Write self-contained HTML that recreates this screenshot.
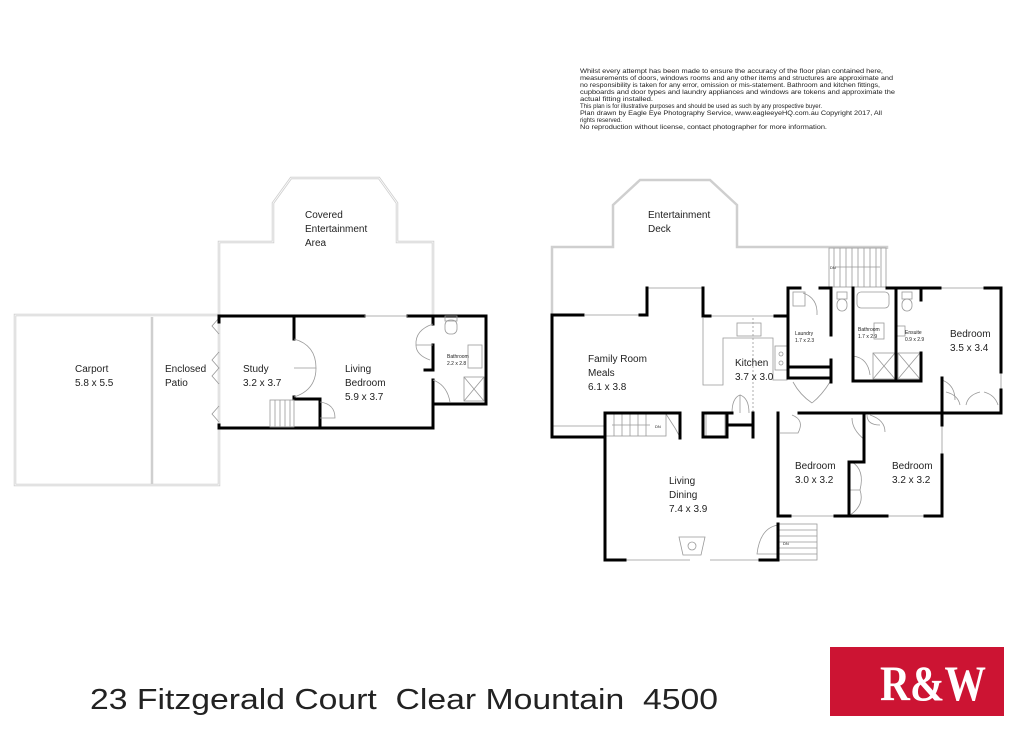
<!DOCTYPE html>
<html><head><meta charset="utf-8"><style>
html,body{margin:0;padding:0;background:#fff;width:1024px;height:741px;overflow:hidden}
svg{display:block}
text{font-family:"Liberation Sans",sans-serif;fill:#222}
</style></head><body>
<svg width="1024" height="741" viewBox="0 0 1024 741" xmlns="http://www.w3.org/2000/svg">
<!-- disclaimer -->
<g font-size="6.2" lengthAdjust="spacingAndGlyphs">
<text x="580" y="73" textLength="303" lengthAdjust="spacingAndGlyphs">Whilst every attempt has been made to ensure the accuracy of the floor plan contained here,</text>
<text x="580" y="80" textLength="313" lengthAdjust="spacingAndGlyphs">measurements of doors, windows rooms and any other items and structures are approximate and</text>
<text x="580" y="87" textLength="300" lengthAdjust="spacingAndGlyphs">no responsibility is taken for any error, omission or mis-statement. Bathroom and kitchen fittings,</text>
<text x="580" y="94" textLength="315" lengthAdjust="spacingAndGlyphs">cupboards and door types and laundry appliances and windows are tokens and approximate the</text>
<text x="580" y="101" textLength="73" lengthAdjust="spacingAndGlyphs">actual fitting installed.</text>
<text x="580" y="108" textLength="242" lengthAdjust="spacingAndGlyphs">This plan is for illustrative purposes and should be used as such by any prospective buyer.</text>
<text x="580" y="115" textLength="302" lengthAdjust="spacingAndGlyphs">Plan drawn by Eagle Eye Photography Service, www.eagleeyeHQ.com.au Copyright 2017, All</text>
<text x="580" y="122" textLength="42" lengthAdjust="spacingAndGlyphs">rights reserved.</text>
<text x="580" y="129" textLength="247" lengthAdjust="spacingAndGlyphs">No reproduction without license, contact photographer for more information.</text>
</g>

<!-- LEFT PLAN grey outlines -->
<g fill="none" stroke="#cfcfcf" stroke-width="2.5">
<rect x="15" y="315" width="204" height="170"/>
<line x1="152" y1="317" x2="152" y2="485"/>
<polyline points="219,315 219,242 273,242 273,203 291,178 379,178 397,203 397,242 433,242 433,315"/>
</g>
<g fill="none" stroke="#fff" stroke-width="0.8">
<rect x="15" y="315" width="204" height="170"/>
<polyline points="219,315 219,242 273,242 273,203 291,178 379,178 397,203 397,242 433,242 433,315"/>
</g>
<g fill="none" stroke="#999" stroke-width="0.8">
<polyline points="219,318 212,326 219,334"/><polyline points="219,352 212,360 219,368 212,376 219,384"/><polyline points="219,406 212,414 219,422"/>
</g>
<g fill="none" stroke="#000" stroke-width="3" stroke-linecap="square">
<line x1="219" y1="316" x2="364" y2="316"/>
<line x1="408" y1="316" x2="486" y2="316"/>
<line x1="486" y1="316" x2="486" y2="404"/>
<line x1="433" y1="404" x2="486" y2="404"/>
<line x1="433" y1="316" x2="433" y2="324"/>
<line x1="433" y1="345" x2="433" y2="370"/><line x1="425" y1="370" x2="433" y2="370"/>
<line x1="433" y1="380" x2="433" y2="428"/>
<line x1="219" y1="428" x2="433" y2="428"/>
<line x1="219" y1="318" x2="219" y2="322"/><line x1="219" y1="425" x2="219" y2="428"/>
<line x1="294" y1="316" x2="294" y2="339"/>
<line x1="294" y1="397" x2="294" y2="399"/><line x1="294" y1="399" x2="320" y2="399"/>
<line x1="320" y1="399" x2="320" y2="428"/>
</g>
<g fill="none" stroke="#999" stroke-width="0.8">
<line x1="364" y1="316" x2="408" y2="316"/>
<path d="M294 339 Q316 345 316 368 L294 368"/><path d="M294 397 Q316 390 316 368"/>
<path d="M320 402 Q335 404 335 418 L320 418"/>
<rect x="270" y="400" width="24" height="27"/>
<line x1="275" y1="400" x2="275" y2="427"/><line x1="280" y1="400" x2="280" y2="427"/><line x1="285" y1="400" x2="285" y2="427"/><line x1="290" y1="400" x2="290" y2="427"/>
<path d="M433 324 Q415 330 416 345 L433 345"/><path d="M416 345 Q416 355 430 360"/>
<path d="M433 380 Q447 385 450 402"/>
<rect x="445" y="320" width="12" height="14" rx="5"/><rect x="445" y="316" width="12" height="5"/>
<rect x="468" y="345" width="14" height="23"/>
<rect x="464" y="377" width="20" height="24"/><line x1="464" y1="377" x2="484" y2="401"/><line x1="484" y1="377" x2="464" y2="401"/>
</g>
<g font-size="10">
<text x="305" y="218">Covered</text><text x="305" y="232">Entertainment</text><text x="305" y="246">Area</text>
<text x="75" y="372">Carport</text><text x="75" y="386">5.8 x 5.5</text>
<text x="165" y="372">Enclosed</text><text x="165" y="386">Patio</text>
<text x="243" y="372">Study</text><text x="243" y="386">3.2 x 3.7</text>
<text x="345" y="372">Living</text><text x="345" y="386">Bedroom</text><text x="345" y="400">5.9 x 3.7</text>
<text x="447" y="358" font-size="5">Bathroom</text><text x="447" y="365" font-size="5">2.2 x 2.8</text>
</g>

<!-- RIGHT PLAN -->
<g fill="none" stroke="#cfcfcf" stroke-width="2.5">
<polyline points="552,315 552,247 613,247 613,205 640,180 710,180 737,205 737,247 887,247 887,249"/>
</g>
<g fill="none" stroke="#999" stroke-width="0.8">
<rect x="829" y="248" width="57" height="39"/>
<line x1="834" y1="248" x2="834" y2="287"/><line x1="840" y1="248" x2="840" y2="287"/><line x1="846" y1="248" x2="846" y2="287"/><line x1="852" y1="248" x2="852" y2="287"/><line x1="858" y1="248" x2="858" y2="287"/><line x1="864" y1="248" x2="864" y2="287"/><line x1="870" y1="248" x2="870" y2="287"/><line x1="876" y1="248" x2="876" y2="287"/><line x1="881" y1="248" x2="881" y2="287"/>
<line x1="835" y1="267" x2="880" y2="267"/>
<polyline points="703,318 703,385 723,385 723,338 773,338 773,380 787,380 787,318"/>
<rect x="737" y="323" width="24" height="13"/>
<line x1="753" y1="318" x2="753" y2="413" stroke-dasharray="2,2"/>
<line x1="585" y1="315" x2="640" y2="315"/><line x1="647" y1="288" x2="703" y2="288"/><line x1="710" y1="316" x2="775" y2="316"/>
<line x1="940" y1="288" x2="985" y2="288"/><line x1="1001" y1="372" x2="1001" y2="390"/>
<line x1="942" y1="425" x2="942" y2="455"/>
<line x1="790" y1="516" x2="835" y2="516"/><line x1="887" y1="516" x2="925" y2="516"/>
<line x1="625" y1="560" x2="690" y2="560"/><line x1="710" y1="560" x2="760" y2="560"/>
<line x1="552" y1="426" x2="605" y2="426"/>
<rect x="606" y="414" width="60" height="22"/>
<line x1="614" y1="414" x2="614" y2="436"/><line x1="622" y1="414" x2="622" y2="436"/><line x1="630" y1="414" x2="630" y2="436"/><line x1="638" y1="414" x2="638" y2="436"/><line x1="646" y1="414" x2="646" y2="436"/>
<line x1="612" y1="425" x2="650" y2="425"/>
<polyline points="666,414 675,428 680,437"/>
<rect x="779" y="524" width="38" height="36"/>
<line x1="779" y1="530" x2="817" y2="530"/><line x1="779" y1="536" x2="817" y2="536"/><line x1="779" y1="542" x2="817" y2="542"/><line x1="779" y1="548" x2="817" y2="548"/><line x1="779" y1="554" x2="817" y2="554"/>
<path d="M778 525 Q760 528 757 554 L778 554"/>
<polygon points="679,537 705,537 701,555 683,555"/><circle cx="692" cy="546" r="4"/>
<path d="M792 415 Q805 420 798 433 L780 433"/>
<path d="M867 415 Q867 425 880 425"/><path d="M852 418 Q852 430 865 440"/>
<path d="M852 462 Q865 470 860 490 L850 490"/><path d="M850 515 Q865 505 860 490"/>
<path d="M870 415 Q885 420 885 432"/>
<path d="M793 382 Q800 395 812 403"/><path d="M830 382 Q822 395 812 403"/>
<path d="M732 413 Q732 398 740 395 L740 413"/><path d="M749 413 Q749 398 740 395"/>
<path d="M942 380 Q955 385 955 400"/>
<path d="M946 392 Q958 395 960 405"/><path d="M980 392 Q968 395 966 405"/><path d="M984 392 Q995 395 998 405"/>
<path d="M803 293 Q818 298 817 315"/>
<path d="M853 356 Q868 358 870 375"/>
<rect x="793" y="292" width="12" height="14"/>
<rect x="837" y="292" width="10" height="7"/><rect x="837" y="299" width="10" height="12" rx="5"/>
<rect x="857" y="292" width="32" height="16" rx="4"/>
<rect x="902" y="292" width="10" height="7"/><rect x="902" y="299" width="10" height="12" rx="5"/>
<rect x="874" y="323" width="10" height="16"/><rect x="897" y="326" width="8" height="10"/>
<rect x="873" y="353" width="22" height="26"/><line x1="873" y1="353" x2="895" y2="379"/><line x1="895" y1="353" x2="873" y2="379"/>
<rect x="898" y="353" width="22" height="26"/><line x1="898" y1="353" x2="920" y2="379"/><line x1="920" y1="353" x2="898" y2="379"/>
<rect x="775" y="346" width="12" height="24"/><circle cx="781" cy="354" r="2"/><circle cx="781" cy="363" r="2"/>
<rect x="706" y="414" width="19" height="22"/>
</g>
<g fill="none" stroke="#000" stroke-width="3" stroke-linecap="square">
<polyline points="583,315 552,315 552,437 605,437"/>
<polyline points="640,315 647,315 647,288"/>
<polyline points="703,288 703,316 710,316"/>
<polyline points="775,316 788,316 788,288"/>
<line x1="788" y1="288" x2="800" y2="288"/>
<line x1="820" y1="288" x2="829" y2="288"/>
<line x1="887" y1="288" x2="940" y2="288"/>
<line x1="985" y1="288" x2="1001" y2="288"/>
<line x1="1001" y1="288" x2="1001" y2="372"/>
<line x1="1001" y1="390" x2="1001" y2="413"/>
<line x1="788" y1="288" x2="788" y2="378"/>
<line x1="788" y1="367" x2="831" y2="367"/>
<line x1="788" y1="378" x2="831" y2="378"/>
<line x1="831" y1="288" x2="831" y2="335"/>
<line x1="831" y1="360" x2="831" y2="382"/>
<line x1="853" y1="288" x2="853" y2="381"/>
<line x1="853" y1="381" x2="921" y2="381"/>
<line x1="896" y1="288" x2="896" y2="381"/>
<line x1="921" y1="288" x2="921" y2="300"/>
<line x1="921" y1="353" x2="921" y2="381"/>
<line x1="942" y1="378" x2="942" y2="425"/>
<line x1="799" y1="413" x2="1001" y2="413"/>
<line x1="778" y1="413" x2="778" y2="516"/>
<line x1="778" y1="516" x2="790" y2="516"/>
<line x1="835" y1="516" x2="887" y2="516"/>
<line x1="925" y1="516" x2="942" y2="516"/>
<line x1="942" y1="455" x2="942" y2="516"/>
<polyline points="864,413 864,462 849,462 849,516"/>
<line x1="605" y1="413" x2="605" y2="560"/>
<line x1="605" y1="413" x2="680" y2="413"/>
<line x1="680" y1="413" x2="680" y2="438"/>
<line x1="605" y1="560" x2="625" y2="560"/>
<line x1="760" y1="560" x2="778" y2="560"/>
<line x1="778" y1="524" x2="778" y2="560"/>
<polyline points="727,413 703,413 703,437 727,437 727,413"/>
<polyline points="729,425 753,425 753,437"/>
<line x1="753" y1="413" x2="753" y2="437"/>
<line x1="727" y1="413" x2="732" y2="413"/>
</g>
<g font-size="10">
<text x="648" y="218">Entertainment</text><text x="648" y="232">Deck</text>
<text x="588" y="362">Family Room</text><text x="588" y="376">Meals</text><text x="588" y="390">6.1 x 3.8</text>
<text x="735" y="366">Kitchen</text><text x="735" y="380">3.7 x 3.0</text>
<text x="950" y="337">Bedroom</text><text x="950" y="351">3.5 x 3.4</text>
<text x="795" y="469">Bedroom</text><text x="795" y="483">3.0 x 3.2</text>
<text x="892" y="469">Bedroom</text><text x="892" y="483">3.2 x 3.2</text>
<text x="669" y="484">Living</text><text x="669" y="498">Dining</text><text x="669" y="512">7.4 x 3.9</text>
</g>
<g font-size="5">
<text x="795" y="335">Laundry</text><text x="795" y="342">1.7 x 2.3</text>
<text x="858" y="331">Bathroom</text><text x="858" y="338">1.7 x 2.9</text>
<text x="905" y="334">Ensuite</text><text x="905" y="341">0.9 x 2.9</text>
<text x="830" y="269" font-size="4">DN</text><text x="655" y="428" font-size="4">DN</text><text x="783" y="545" font-size="4">DN</text>
</g>

<text x="90" y="709" font-size="29" fill="#111" style="white-space:pre" textLength="628" lengthAdjust="spacingAndGlyphs">23 Fitzgerald Court  Clear Mountain  4500</text>
<rect x="830" y="647" width="174" height="69" fill="#cc1433"/>
<text x="880" y="700" font-weight="bold" font-size="50" style="fill:#fff;font-family:'Liberation Serif',serif" textLength="106" lengthAdjust="spacingAndGlyphs">R&amp;W</text>
</svg>
</body></html>
